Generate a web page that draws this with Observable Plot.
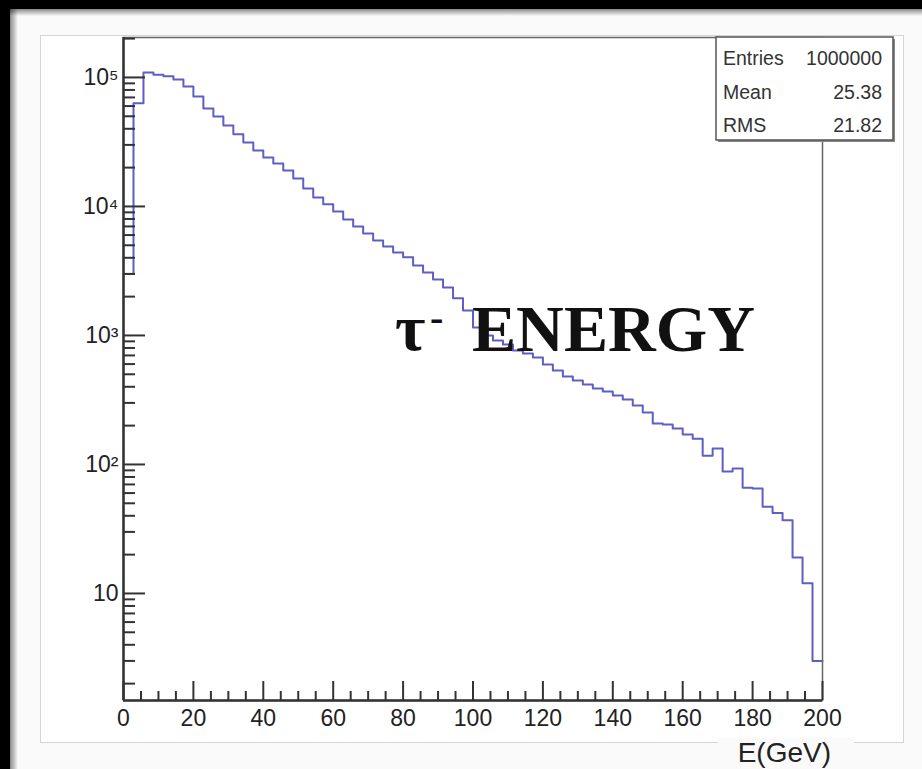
<!DOCTYPE html>
<html>
<head>
<meta charset="utf-8">
<script src="https://cdn.jsdelivr.net/npm/d3@7"></script>
<script src="https://cdn.jsdelivr.net/npm/@observablehq/plot@0.6"></script>
<style>
  html, body { margin: 0; padding: 0; background: #fafafa; overflow: hidden; width: 922px; height: 769px; }
  #wrap { position: relative; width: 922px; height: 769px; overflow: hidden; background: #fafafa; }
  #topBar { position: absolute; left: 0; top: 0; width: 922px; height: 9px; background: #000; }
  #leftBar { position: absolute; left: 0; top: 0; width: 10px; height: 769px; background: #000; }
  #topShade { position: absolute; left: 10px; top: 9px; width: 912px; height: 7px;
          background: linear-gradient(to bottom, rgba(0,0,0,0.45), rgba(0,0,0,0)); }
  #leftShade { position: absolute; left: 10px; top: 9px; width: 8px; height: 760px;
          background: linear-gradient(to right, rgba(0,0,0,0.45), rgba(0,0,0,0)); }
  #canvasRect { position: absolute; left: 40px; top: 35px; width: 864px; height: 708px;
          border: 1px solid #d4d4d4; background: #fff; box-sizing: border-box; }
  #plot { position: absolute; left: 0; top: 0; width: 922px; height: 769px; }
  #ov { position: absolute; left: 0; top: 0; }
</style>
</head>
<body>
<div id="wrap">
  <div id="topBar"></div>
  <div id="leftBar"></div>
  <div id="topShade"></div>
  <div id="leftShade"></div>
  <div id="canvasRect"></div>
  <div id="plot"></div>
  <svg id="ov" width="922" height="769"></svg>
</div>
<script>
// ---- data ----
const xMin = 0;
const xMax = 200;
const binCounts = [3000, 63000, 109000, 105000, 102000, 96500, 85200, 71300, 57500, 49900,
  42500, 36200, 31300, 27200, 24000, 21500, 19000, 16500, 13800, 11750,
  10400, 9150, 7930, 7000, 6180, 5450, 4900, 4400, 4030, 3490,
  3080, 2720, 2350, 1940, 1560, 1150, 1000, 915, 850, 765,
  725, 675, 595, 535, 481, 448, 417, 388, 368, 343,
  319, 287, 253, 208, 204, 190, 171, 158, 117, 133,
  88, 93, 66, 65, 47, 42, 37, 19, 12, 3];
const xMajorTicks = [0, 20, 40, 60, 80, 100, 120, 140, 160, 180, 200];
const xMinorTicks = [5, 10, 15, 25, 30, 35, 45, 50, 55, 65, 70, 75, 85, 90, 95, 105, 110, 115,
  125, 130, 135, 145, 150, 155, 165, 170, 175, 185, 190, 195];
const yMajorTicks = [10, 100, 1000, 10000, 100000];
const yMajorLabels = ["10", "10²", "10³", "10⁴", "10⁵"];
const yMinorTicks = [2, 3, 4, 5, 6, 7, 8, 9, 20, 30, 40, 50, 60, 70, 80, 90,
  200, 300, 400, 500, 600, 700, 800, 900, 2000, 3000, 4000, 5000, 6000, 7000, 8000, 9000,
  20000, 30000, 40000, 50000, 60000, 70000, 80000, 90000, 200000];
const yDomain = [1.48, 2.04e5];
const statsRows = [["Entries", "1000000"], ["Mean", "25.38"], ["RMS", "21.82"]];
const xTitle = "E(GeV)";

// ---- build step outline points (bin edges) ----
const binWidth = (xMax - xMin) / binCounts.length;
const steps = binCounts.map((v, i) => ({x: xMin + i * binWidth, y: v}));
steps.push({x: xMax, y: binCounts[binCounts.length - 1]});

const font = "'Liberation Sans', Arimo, Helvetica, Arial, sans-serif";
const labelMap = new Map(yMajorTicks.map((t, i) => [t, yMajorLabels[i]]));

const chart = Plot.plot({
  width: 922,
  height: 769,
  marginLeft: 123,
  marginTop: 37,
  marginRight: 100,
  marginBottom: 69,
  x: {domain: [xMin, xMax]},
  y: {type: "log", domain: yDomain},
  style: {background: "transparent", fontFamily: font, color: "#333"},
  marks: [
    Plot.lineY(steps, {x: "x", y: "y", curve: "step-after", stroke: "#5e5ec4", strokeWidth: 2}),
    Plot.frame({stroke: "#666", strokeWidth: 1.5}),
    Plot.axisX(xMajorTicks, {anchor: "bottom", tickSize: -19, tickFormat: () => "", label: null, stroke: "#333", strokeWidth: 2}),
    Plot.axisX(xMinorTicks, {anchor: "bottom", tickSize: -9, tickFormat: () => "", label: null, stroke: "#333", strokeWidth: 2}),
    Plot.axisX(xMajorTicks, {anchor: "bottom", tickSize: 0, tickPadding: 9, fontSize: 23, label: null, fill: "#222"}),
    Plot.axisY(yMajorTicks, {anchor: "left", tickSize: -22, tickFormat: () => "", label: null, stroke: "#333", strokeWidth: 2}),
    Plot.axisY(yMinorTicks, {anchor: "left", tickSize: -12, tickFormat: () => "", label: null, stroke: "#333", strokeWidth: 2}),
    Plot.axisY(yMajorTicks, {anchor: "left", tickSize: 0, tickPadding: 5, fontSize: 23, label: null, fill: "#222",
      tickFormat: d => labelMap.get(d)}),
    Plot.ruleX([xMin], {stroke: "#333", strokeWidth: 2.5}),
    Plot.ruleY([yDomain[0]], {stroke: "#333", strokeWidth: 2.5})
  ]
});
document.getElementById("plot").appendChild(chart);

// ---- overlay: stats box, big title, axis title ----
const ov = d3.select("#ov");
const sb = {x: 716, y: 37, w: 177, h: 103};
ov.append("rect").attr("x", sb.x + 2).attr("y", sb.y + 2).attr("width", sb.w).attr("height", sb.h).attr("fill", "#888");
ov.append("rect").attr("x", sb.x).attr("y", sb.y).attr("width", sb.w).attr("height", sb.h)
  .attr("fill", "#fff").attr("stroke", "#555").attr("stroke-width", 1.5);
statsRows.forEach((r, i) => {
  const yb = sb.y + 28 + i * 33.5;
  ov.append("text").attr("x", sb.x + 7).attr("y", yb).attr("font-family", font).attr("font-size", 19.5)
    .attr("fill", "#333").text(r[0]);
  ov.append("text").attr("x", sb.x + sb.w - 11).attr("y", yb).attr("text-anchor", "end").attr("font-family", font)
    .attr("font-size", 19.5).attr("fill", "#333").text(r[1]);
});

const serif = "'Liberation Serif', 'Times New Roman', 'DejaVu Serif', serif";
ov.append("text").attr("x", 395).attr("y", 350).attr("font-family", serif).attr("font-weight", 700)
  .attr("font-size", 66).attr("fill", "#111").text("τ");
ov.append("text").attr("x", 430).attr("y", 331).attr("font-family", serif).attr("font-weight", 700)
  .attr("font-size", 40).attr("fill", "#111").text("-");
ov.append("text").attr("x", 472).attr("y", 351).attr("font-family", serif).attr("font-weight", 700)
  .attr("font-size", 66).attr("fill", "#111").attr("textLength", 283).attr("lengthAdjust", "spacingAndGlyphs")
  .text("ENERGY");

ov.append("rect").attr("x", 718).attr("y", 738).attr("width", 136).attr("height", 31).attr("fill", "#fafafa");
ov.append("text").attr("x", 831).attr("y", 762).attr("text-anchor", "end").attr("font-family", font)
  .attr("font-size", 28).attr("fill", "#222").text(xTitle);
</script>
</body>
</html>
